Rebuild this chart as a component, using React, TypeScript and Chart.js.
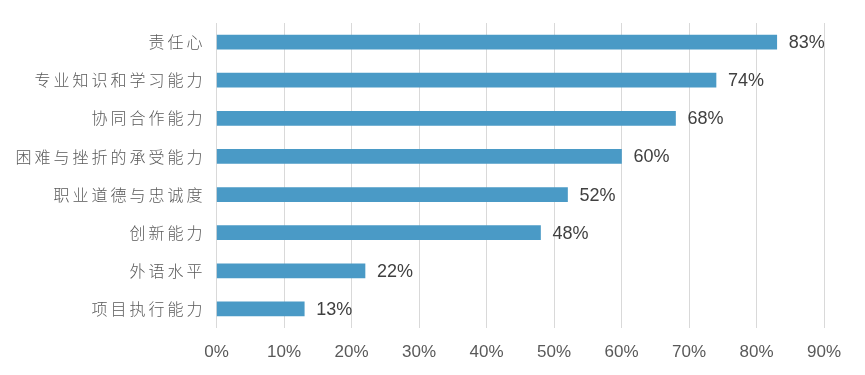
import React, { useEffect, useRef } from "react";
import { Chart, registerables } from "chart.js";

Chart.register(...registerables);

const categories = [
  "责任心",
  "专业知识和学习能力",
  "协同合作能力",
  "困难与挫折的承受能力",
  "职业道德与忠诚度",
  "创新能力",
  "外语水平",
  "项目执行能力",
];
const values = [83, 74, 68, 60, 52, 48, 22, 13];
const xMax = 90;
const xStep = 10;

const valueLabels = {
  id: "valueLabels",
  afterDatasetsDraw(chart: any) {
    const ctx = chart.ctx;
    const meta = chart.getDatasetMeta(0);
    ctx.save();
    ctx.font = '18px "Liberation Sans", Arial, sans-serif';
    ctx.fillStyle = "#404040";
    ctx.textAlign = "left";
    ctx.textBaseline = "middle";
    meta.data.forEach((bar: any, i: number) => {
      ctx.fillText(values[i] + "%", bar.x + 12, bar.y + 1);
    });
    ctx.restore();
  },
};

const categoryLabels = {
  id: "categoryLabels",
  afterDraw(chart: any) {
    const ctx = chart.ctx;
    const yScale = chart.scales.y;
    const spacing = 3;
    ctx.save();
    ctx.font = '300 16px "Noto Sans CJK SC", sans-serif';
    ctx.fillStyle = "#595959";
    ctx.textAlign = "right";
    ctx.textBaseline = "middle";
    (ctx as any).letterSpacing = spacing + "px";
    categories.forEach((c, i) => {
      const y = yScale.getPixelForTick(i);
      ctx.fillText(c, chart.chartArea.left - 14 + spacing, y);
    });
    ctx.restore();
  },
};

export default function App() {
  const ref = useRef<HTMLCanvasElement>(null);
  useEffect(() => {
    if (!ref.current) return;
    const chart = new Chart(ref.current, {
      type: "bar",
      data: {
        labels: categories,
        datasets: [
          {
            data: values,
            backgroundColor: "#4a9ac6",
            barThickness: 14,
          },
        ],
      },
      options: {
        indexAxis: "y",
        responsive: false,
        animation: false,
        layout: { padding: { left: 0, right: 41, top: 23, bottom: 0 } },
        plugins: { legend: { display: false }, tooltip: { enabled: false } },
        scales: {
          x: {
            min: 0,
            max: xMax,
            ticks: {
              stepSize: xStep,
              callback: (v: any) => v + "%",
              color: "#595959",
              font: { size: 17, family: '"Liberation Sans", Arial, sans-serif' },
              padding: 14,
              maxRotation: 0,
            },
            grid: { color: "#d9d9d9", lineWidth: 1, drawTicks: false },
            border: { display: false },
            afterFit: (s: any) => {
              s.height = 47;
            },
          },
          y: {
            ticks: { display: false },
            grid: { display: false, drawTicks: false },
            border: { display: false },
            afterFit: (s: any) => {
              s.width = 216.5;
            },
          },
        },
      },
      plugins: [valueLabels, categoryLabels],
    });
    return () => chart.destroy();
  }, []);
  return (
    <div style={{ position: "fixed", left: 0, top: 0, width: 865, height: 375, background: "#fff" }}>
      <canvas ref={ref} width={865} height={375} />
    </div>
  );
}
